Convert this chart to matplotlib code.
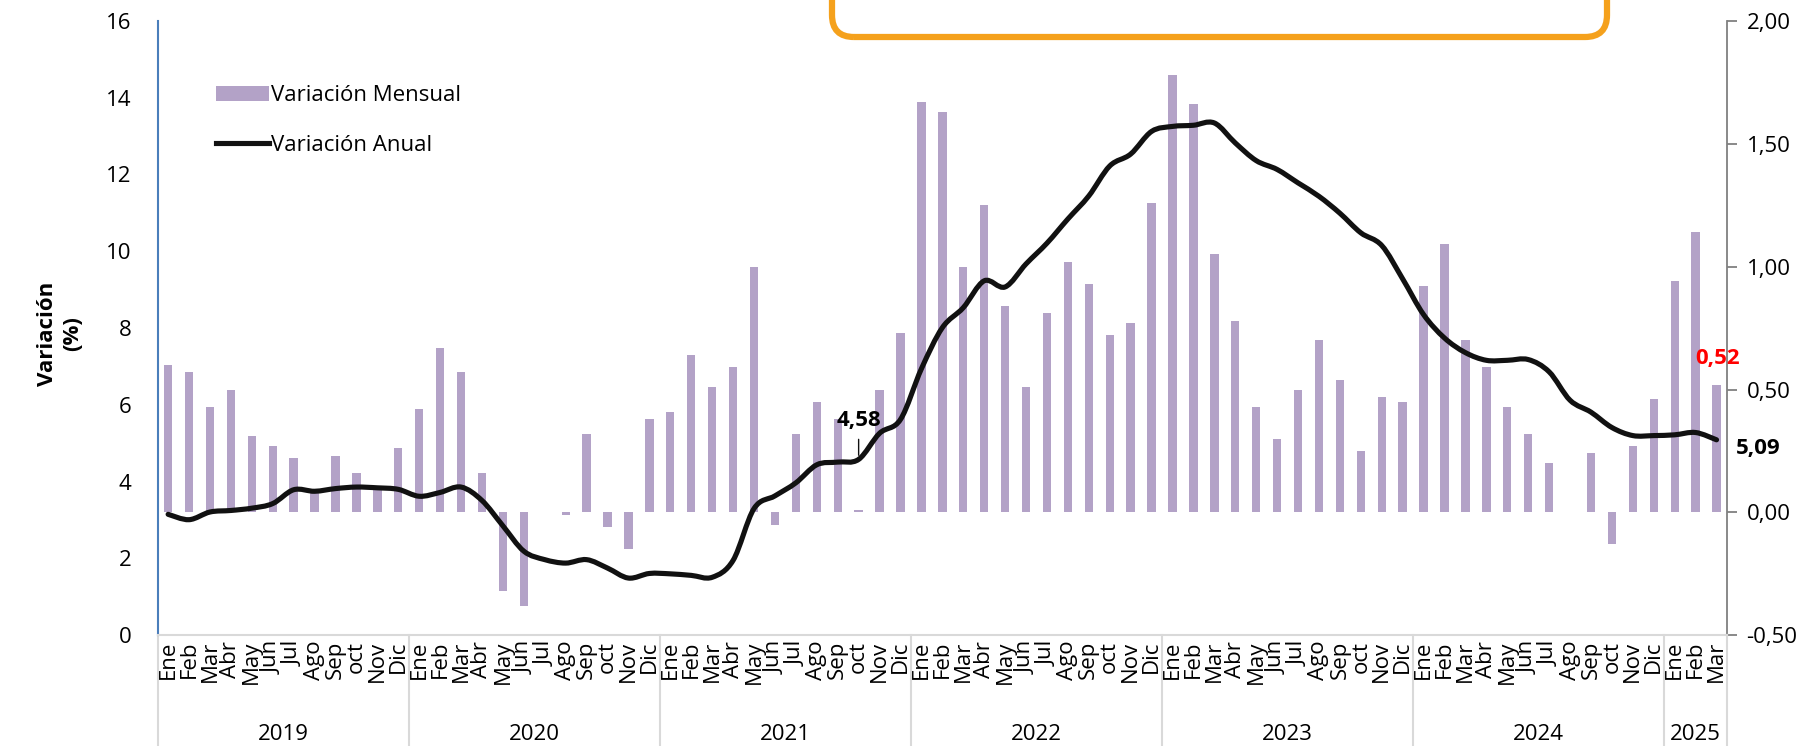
import matplotlib
matplotlib.use("Agg")
import matplotlib.pyplot as plt
import numpy as np
from matplotlib.path import Path
from matplotlib.patches import PathPatch, Patch, FancyBboxPatch
from matplotlib.lines import Line2D
from matplotlib.transforms import IdentityTransform, blended_transform_factory
from matplotlib.ticker import FuncFormatter

plt.rcParams['font.family'] = ['Open Sans', 'DejaVu Sans']

# data
months = ["Ene", "Feb", "Mar", "Abr", "May", "Jun", "Jul", "Ago", "Sep", "oct", "Nov", "Dic"]
years = ["2019", "2020", "2021", "2022", "2023", "2024", "2025"]
months_per_year = [12, 12, 12, 12, 12, 12, 3]

mensual = [0.60, 0.57, 0.43, 0.50, 0.31, 0.27, 0.22, 0.09, 0.23, 0.16, 0.10, 0.26,
           0.42, 0.67, 0.57, 0.16, -0.32, -0.38, 0.00, -0.01, 0.32, -0.06, -0.15, 0.38,
           0.41, 0.64, 0.51, 0.59, 1.00, -0.05, 0.32, 0.45, 0.38, 0.01, 0.50, 0.73,
           1.67, 1.63, 1.00, 1.25, 0.84, 0.51, 0.81, 1.02, 0.93, 0.72, 0.77, 1.26,
           1.78, 1.66, 1.05, 0.78, 0.43, 0.30, 0.50, 0.70, 0.54, 0.25, 0.47, 0.45,
           0.92, 1.09, 0.70, 0.59, 0.43, 0.32, 0.20, 0.00, 0.24, -0.13, 0.27, 0.46,
           0.94, 1.14, 0.52]

anual = [3.15, 3.01, 3.21, 3.25, 3.31, 3.43, 3.79, 3.75, 3.82, 3.86, 3.84, 3.80,
         3.62, 3.72, 3.86, 3.51, 2.85, 2.19, 1.97, 1.88, 1.97, 1.75, 1.49, 1.61,
         1.60, 1.56, 1.51, 1.95, 3.30, 3.63, 3.97, 4.44, 4.51, 4.58, 5.26, 5.62,
         6.94, 8.01, 8.53, 9.23, 9.07, 9.67, 10.21, 10.84, 11.44, 12.22, 12.53, 13.12,
         13.25, 13.28, 13.34, 12.82, 12.36, 12.13, 11.78, 11.43, 10.99, 10.48, 10.15, 9.28,
         8.35, 7.74, 7.36, 7.16, 7.16, 7.18, 6.86, 6.12, 5.81, 5.41, 5.20, 5.20,
         5.22, 5.28, 5.09]

month_labels = []
for n in months_per_year:
    month_labels += months[:n]

x = np.arange(len(mensual))
fs = 16

fig = plt.figure(figsize=(18.08, 7.46), dpi=100)
ax = fig.add_axes([0.0872, 0.1484, 0.868, 0.8237])
ax2 = ax.twinx()
ax.set_zorder(ax2.get_zorder() + 1)
ax.patch.set_visible(False)

# bars (right axis)
ax2.bar(x, mensual, width=0.4, color="#B3A2C7", zorder=2)
ax2.set_ylim(-0.5, 2.0)
ax2.set_yticks(np.arange(-0.5, 2.01, 0.5))
ax2.yaxis.set_major_formatter(FuncFormatter(lambda v, p: f"{v:.2f}".replace(".", ",")))
ax2.tick_params(axis="y", length=7, width=1.3, color="#808080", labelsize=fs, pad=7)
for s in ["left", "top", "bottom"]:
    ax2.spines[s].set_visible(False)
ax2.spines["right"].set_color("#808080")
ax2.spines["right"].set_linewidth(1.3)

# smoothed line (left axis), bezier through the data points
pts = np.column_stack([x, anual]).astype(float)
verts = [pts[0]]
codes = [Path.MOVETO]
for i in range(len(pts) - 1):
    p0 = pts[i - 1] if i > 0 else pts[i]
    p1 = pts[i]
    p2 = pts[i + 1]
    p3 = pts[i + 2] if i + 2 < len(pts) else pts[i + 1]
    verts += [p1 + (p2 - p0) / 6, p2 - (p3 - p1) / 6, p2]
    codes += [Path.CURVE4] * 3
ax.add_patch(PathPatch(Path(verts, codes), facecolor="none", edgecolor="#111111",
                       lw=3.7, capstyle="round", joinstyle="round", zorder=3))

ax.set_xlim(-0.5, len(x) - 0.5)
ax.set_ylim(0, 16)
ax.set_yticks(range(0, 17, 2))
ax.tick_params(axis="y", length=0, labelsize=fs, pad=19)
ax.set_xticks(x)
ax.set_xticklabels(month_labels, rotation=90, fontsize=fs, linespacing=1)
ax.tick_params(axis="x", length=0, pad=4)
ax.spines["top"].set_visible(False)
ax.spines["right"].set_visible(False)
ax.spines["left"].set_color("#4A7EBB")
ax.spines["left"].set_linewidth(1.5)
ax.spines["bottom"].set_color("#D9D9D9")
ax.spines["bottom"].set_linewidth(1.5)

# year groups below the month labels
trans = blended_transform_factory(ax.transData, ax.transAxes)
start = 0
bounds = [-0.5]
for yr, n in zip(years, months_per_year):
    ax.text(start + (n - 1) / 2, -0.161, yr, transform=trans, ha="center", va="center",
            fontsize=fs, clip_on=False)
    start += n
    bounds.append(start - 0.5)
for b in bounds:
    ax.plot([b, b], [0, -0.2], transform=trans, color="#D9D9D9", lw=1.5, clip_on=False)

# annotations
ax.annotate("4,58", xy=(33, anual[33]), xytext=(0, 28), textcoords="offset points",
            ha="center", va="center", fontsize=fs, fontweight="bold",
            arrowprops=dict(arrowstyle="-", lw=1, color="#111111", shrinkA=4, shrinkB=3))
ax.annotate("5,09", xy=(74, anual[74]), xytext=(14, -6), textcoords="offset points",
            ha="left", va="center", fontsize=fs, fontweight="bold")
ax2.annotate("0,52", xy=(74, mensual[74]), xytext=(1, 19), textcoords="offset points",
             ha="center", va="center", fontsize=fs, fontweight="bold", color="#FF0000")

# legend
handles = [Patch(facecolor="#B3A2C7"), Line2D([0], [0], color="#111111", lw=3.7)]
ax.legend(handles, ["Variación Mensual", "Variación Anual"], loc="upper left",
          bbox_to_anchor=(0.037, 0.895), frameon=False, fontsize=fs, handlelength=2.4,
          handletextpad=0.1, labelspacing=1.3, borderpad=0, borderaxespad=0)

fig.text(60 / 1808, 1 - 334 / 746, "Variación\n(%)", rotation=90, ha="center", va="center",
         fontsize=fs, fontweight="bold", multialignment="center", linespacing=1.25)

# orange box at the top (cut off by the figure edge)
box = FancyBboxPatch((832, 746 - 37), 775, 120, boxstyle="round,pad=0,rounding_size=22",
                     transform=IdentityTransform(), facecolor="none", edgecolor="#F5A11C",
                     lw=4.5, clip_on=False)
fig.add_artist(box)

fig.savefig("out.png", dpi=100)
